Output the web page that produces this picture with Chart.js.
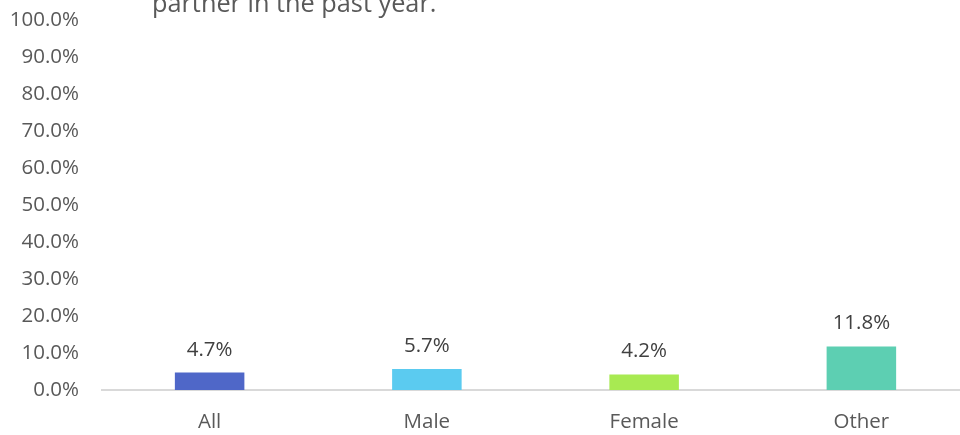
<html>
    <head>
        <style>
            body { margin: 0; overflow: hidden; background: #fff; }
            #wrap { width: 960px; height: 435px; overflow: hidden; position: relative; }
            #myChart { position: absolute; left: 0; top: -14px; }
        </style>
    </head>
    <body>
        <script src="https://cdn.jsdelivr.net/npm/chart.js@4/dist/chart.umd.min.js"></script>
        <div id="wrap"><canvas id="myChart" width="970" height="449"></canvas></div>
        <script>
            var categories = ['All', 'Male', 'Female', 'Other'];
            var values = [4.7, 5.7, 4.2, 11.8];
            var barColors = ['#4F67C8', '#5BCBF0', '#A8EA52', '#5DCFB2'];
            var titleLine = 'partner in the past year.';

            var FONT = "'Open Sans', 'Noto Sans', sans-serif";

            // category axis line, running on to the right edge
            var baseLine = {
                id: 'baseLine',
                beforeDatasetsDraw: function(chart) {
                    var ctx = chart.ctx;
                    var x = chart.scales.x;
                    ctx.save();
                    ctx.strokeStyle = '#D9D9D9';
                    ctx.lineWidth = 2;
                    ctx.beginPath();
                    ctx.moveTo(x.left, x.top);
                    ctx.lineTo(chart.width, x.top);
                    ctx.stroke();
                    ctx.restore();
                }
            };

            // value labels above each bar
            var barLabels = {
                id: 'barLabels',
                afterDatasetsDraw: function(chart) {
                    var ctx = chart.ctx;
                    var meta = chart.getDatasetMeta(0);
                    ctx.save();
                    ctx.fillStyle = '#404040';
                    ctx.font = '20.5px ' + FONT;
                    ctx.textAlign = 'center';
                    ctx.textBaseline = 'alphabetic';
                    meta.data.forEach(function(bar, i) {
                        ctx.fillText(values[i].toFixed(1) + '%', bar.x, bar.y - 17);
                    });
                    ctx.restore();
                }
            };

            // the title is cut off at the top, only its last line shows
            var cutTitle = {
                id: 'cutTitle',
                afterDraw: function(chart) {
                    var ctx = chart.ctx;
                    ctx.save();
                    ctx.fillStyle = '#595959';
                    ctx.font = '25.3px ' + FONT;
                    ctx.textAlign = 'left';
                    ctx.textBaseline = 'alphabetic';
                    ctx.fillText(titleLine, 152, 26);
                    ctx.restore();
                }
            };

            var ctx = document.getElementById('myChart').getContext('2d');
            new Chart(ctx, {
                type: 'bar',
                data: {
                    labels: categories,
                    datasets: [{
                        data: values,
                        backgroundColor: barColors,
                        borderWidth: 0,
                        barPercentage: 0.32,
                        categoryPercentage: 1
                    }]
                },
                options: {
                    responsive: false,
                    animation: false,
                    layout: { padding: { top: 4, left: 0, right: 0, bottom: 0 } },
                    plugins: {
                        legend: { display: false },
                        tooltip: { enabled: false },
                        title: { display: false }
                    },
                    scales: {
                        x: {
                            grid: { display: false, drawTicks: false },
                            border: { display: false },
                            ticks: { color: '#595959', font: { family: FONT, size: 20.5 }, padding: 20 },
                            afterFit: function(scale) { scale.height = 45; }
                        },
                        y: {
                            min: 0,
                            max: 100,
                            ticks: {
                                stepSize: 10,
                                color: '#595959',
                                font: { family: FONT, size: 20.5 },
                                padding: 22,
                                callback: function(v) { return v.toFixed(1) + '%'; }
                            },
                            grid: { display: false, drawTicks: false },
                            border: { display: false },
                            afterFit: function(scale) { scale.width = 101; }
                        }
                    }
                },
                plugins: [baseLine, barLabels, cutTitle]
            });
        </script>
    </body>
</html>
